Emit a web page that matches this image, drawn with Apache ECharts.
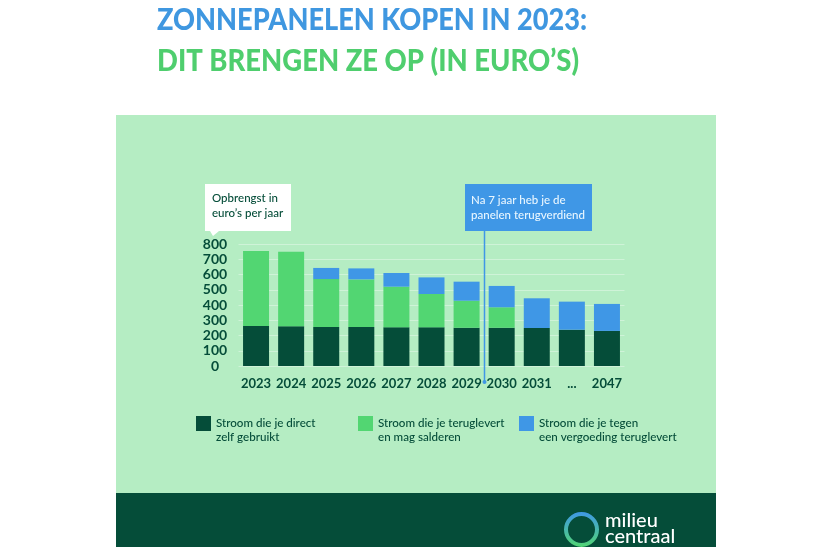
<!DOCTYPE html>
<html>
<head>
<meta charset="utf-8">
<style>html,body{margin:0;padding:0;background:#fff}#chart{width:820px;height:547px}</style>
<script src="https://cdn.jsdelivr.net/npm/echarts@6/dist/echarts.min.js"></script>
</head>
<body>
<div id="chart"></div>
<script>
var years = ['2023','2024','2025','2026','2027','2028','2029','2030','2031','...','2047'];
var direct = [262,260,256,256,254,254,251,251,249,238,230];
var salderen = [492,490,314,312,266,218,177,134,0,0,0];
var vergoeding = [0,0,73,72,90,109,125,140,195,184,177];
var yTicks = [0,100,200,300,400,500,600,700,800];

var names = ['Stroom die je direct\nzelf gebruikt','Stroom die je teruglevert\nen mag salderen','Stroom die je tegen\neen vergoeding teruglevert'];
var dark = '#054d39', green = '#52d672', blue = '#3f97e6', panel = '#b5edc3';

function legendFor(name, left) {
  return {
    data: [name], left: left, top: 402.5, itemWidth: 15, itemHeight: 15, itemGap: 0, padding: 0,
    icon: 'rect', selectedMode: false,
    // blank first line keeps the swatch level with the first text line
    formatter: function (n) { return ' \n' + n; },
    textStyle: {color: dark, fontFamily: 'Lato', fontSize: 11.6, fontWeight: 500, lineHeight: 14}
  };
}
function bar(name, data, color) {
  return {name: name, type: 'bar', stack: 'total', data: data, barWidth: 26, itemStyle: {color: color}, silent: true};
}

var chart = echarts.init(document.getElementById('chart'));
chart.setOption({
  animation: false,
  backgroundColor: '#fff',
  grid: {left: 238.5, right: 195.5, top: 244, height: 122},
  xAxis: {
    type: 'category', data: years,
    axisLine: {show: false}, axisTick: {show: false},
    axisLabel: {interval: 0, margin: 11, color: dark, fontFamily: 'Lato', fontSize: 13, fontWeight: 700}
  },
  yAxis: {
    type: 'value', min: 0, max: 800, interval: 100,
    axisLine: {show: false}, axisTick: {show: false},
    axisLabel: {align: 'center', margin: 23.5, color: dark, fontFamily: 'Lato', fontSize: 14, fontWeight: 700,
      formatter: function (v) { return yTicks.indexOf(v) >= 0 ? String(v) : ''; }},
    splitLine: {lineStyle: {color: 'rgba(255,255,255,0.35)', width: 1}}
  },
  legend: [legendFor(names[0], 196), legendFor(names[1], 358), legendFor(names[2], 519)],
  series: [bar(names[0], direct, dark), bar(names[1], salderen, green), bar(names[2], vergoeding, blue)],
  graphic: [
    // panel and footer behind the chart
    {type: 'rect', z: -10, silent: true, shape: {x: 116, y: 115, width: 600, height: 378}, style: {fill: panel}},
    {type: 'rect', z: -10, silent: true, shape: {x: 116, y: 493, width: 600, height: 54}, style: {fill: dark}},
    // title, squeezed because the original face is narrower than Lato
    {type: 'text', x: 157, y: 4, scaleX: 0.876, style: {text: 'ZONNEPANELEN KOPEN IN 2023:', fill: '#3f97e0', font: '900 31px Lato'}},
    {type: 'text', x: 157, y: 45, scaleX: 0.885, style: {text: 'DIT BRENGEN ZE OP (IN EURO\u2019S)', fill: '#4fce6e', font: '900 31px Lato'}},
    // unit box
    {type: 'rect', shape: {x: 205, y: 184, width: 86, height: 47}, style: {fill: '#fff'}},
    {type: 'polygon', shape: {points: [[210, 231], [219, 231], [213, 236]]}, style: {fill: '#fff'}},
    {type: 'text', x: 212, y: 191, style: {text: 'Opbrengst in\neuro\u2019s per jaar', fill: dark, font: '500 11.5px Lato', lineHeight: 15}},
    // payback note
    {type: 'line', z: 20, shape: {x1: 484.5, y1: 231, x2: 484.5, y2: 382}, style: {stroke: '#3f97e6', lineWidth: 1.5}},
    {type: 'circle', z: 20, shape: {cx: 484.5, cy: 382, r: 2}, style: {fill: '#3f97e6'}},
    {type: 'rect', shape: {x: 465, y: 184, width: 127, height: 47}, style: {fill: '#3f97e6'}},
    {type: 'text', x: 471, y: 192.5, style: {text: 'Na 7 jaar heb je de\npanelen terugverdiend', fill: '#e8f6ff', font: '500 11.5px Lato', lineHeight: 15}},
    // logo
    {type: 'circle', shape: {cx: 581.5, cy: 529.5, r: 15.5}, style: {fill: 'none', lineWidth: 4,
      stroke: new echarts.graphic.LinearGradient(0, 0, 0, 1, [{offset: 0, color: '#3f97e6'}, {offset: 1, color: '#52d672'}])}},
    {type: 'text', x: 605, y: 513, style: {text: 'milieu\ncentraal', fill: '#fff', font: '500 20px Lato', lineHeight: 16}}
  ]
});
</script>
</body>
</html>
